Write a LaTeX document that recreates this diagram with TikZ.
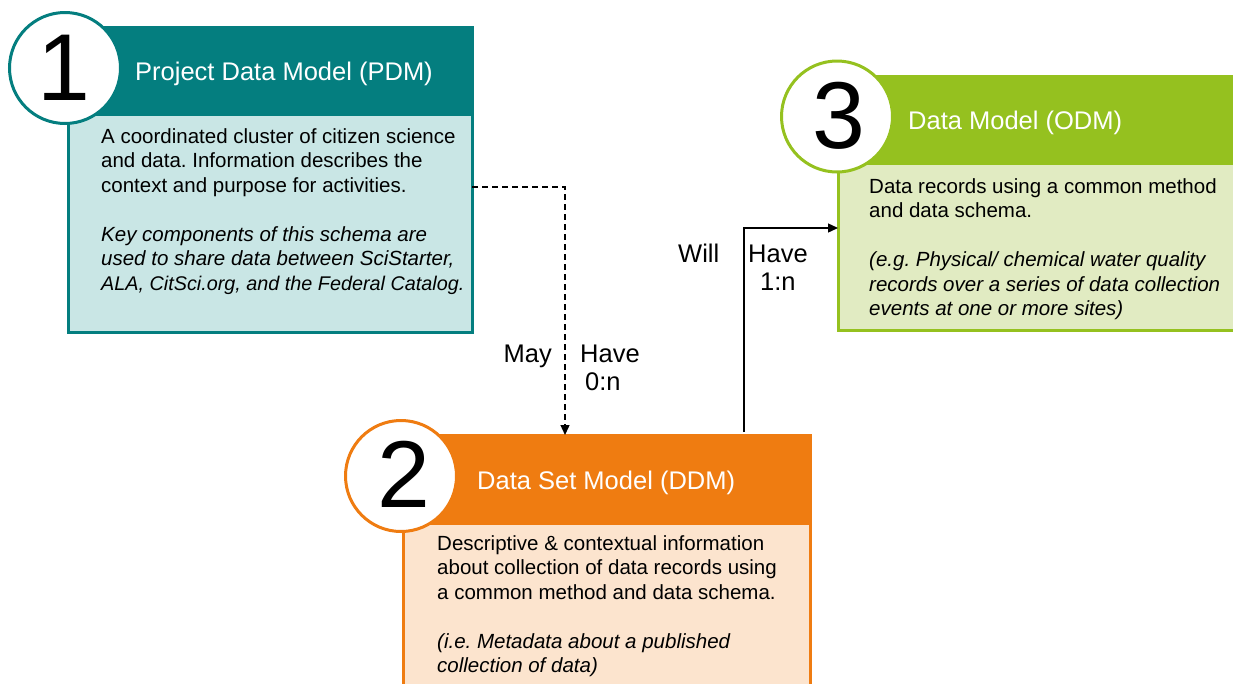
\documentclass[tikz,border=0pt]{standalone}
\usepackage{fontspec}
\setmainfont{Liberation Sans}
\usetikzlibrary{arrows.meta}
\definecolor{tealD}{HTML}{047E7F}
\definecolor{tealL}{HTML}{C9E6E5}
\definecolor{orgD}{HTML}{EF7C11}
\definecolor{orgL}{HTML}{FCE4CE}
\definecolor{grnD}{HTML}{95C11F}
\definecolor{grnL}{HTML}{E1EBC2}
\tikzset{
  bodybox/.style={anchor=north west, inner sep=0pt, outer sep=0pt, line width=3pt},
  headbox/.style={anchor=north west, inner sep=0pt, outer sep=0pt, line width=3pt},
  numcirc/.style={circle, fill=white, line width=3pt, minimum size=111pt, inner sep=0pt},
  digit/.style={anchor=base, inner sep=0pt, font=\fontsize{95}{100}\selectfont},
  titletext/.style={anchor=base west, inner sep=0pt, text=white, font=\fontsize{25.5}{30}\selectfont},
  bodytext/.style={anchor=north west, inner sep=0pt, align=left, font=\fontsize{20.5}{24.5}\selectfont\frenchspacing},
  lab/.style={inner sep=0pt, font=\fontsize{25.5}{30}\selectfont},
  conn/.style={line width=1.3pt, -{Triangle[length=10pt,width=9pt]}},
  dashconn/.style={conn, dash pattern=on 6pt off 4pt}
}
\begin{document}
\begin{tikzpicture}[x=1pt,y=-1pt]
\useasboundingbox (0,0) rectangle (1233,683);
\clip (0,0) rectangle (1233,683);
\fill[white] (0,0) rectangle (1233,683);
% Box 1
\node[bodybox, draw=tealD, fill=tealL, minimum width=404pt, minimum height=305pt] (b1) at (68,27) {};
\node[headbox, draw=tealD, fill=tealD, minimum width=404pt, minimum height=87pt] (h1) at (68,27) {};
\node[numcirc, draw=tealD] (c1) at (65,68) {};
\node[digit] (d1) at (63.5,100) {1};
\node[titletext] (t1) at (135,80) {Project Data Model (PDM)};
\node[bodytext] (x1) at (101,128) {A coordinated cluster of citizen science\\
and data. Information describes the\\
context and purpose for activities.\\[24.5pt]
\itshape Key components of this schema are\\
\itshape used to share data between SciStarter,\\
\itshape\fontsize{19.8}{24.5}\selectfont ALA, CitSci.org, and the Federal Catalog.};
% Box 3
\node[bodybox, draw=grnD, fill=grnL, minimum width=407pt, minimum height=254pt] (b3) at (838,76) {};
\node[headbox, draw=grnD, fill=grnD, minimum width=407pt, minimum height=87pt] (h3) at (838,76) {};
\node[numcirc, draw=grnD] (c3) at (837,116.5) {};
\node[digit] (d3) at (838.5,148) {3};
\node[titletext] (t3) at (908,129) {Data Model (ODM)};
\node[bodytext] (x3) at (869,178) {Data records using a common method\\
and data schema.\\[24.5pt]
\itshape (e.g. Physical/ chemical water quality\\
\itshape records over a series of data collection\\
\itshape events at one or more sites)};
% Box 2
\node[bodybox, draw=orgD, fill=orgL, minimum width=407pt, minimum height=270pt] (b2) at (403,435) {};
\node[headbox, draw=orgD, fill=orgD, minimum width=407pt, minimum height=88pt] (h2) at (403,435) {};
\node[numcirc, draw=orgD] (c2) at (401,476) {};
\node[digit] (d2) at (404,507) {2};
\node[titletext] (t2) at (477,489) {Data Set Model (DDM)};
\node[bodytext] (x2) at (437,535) {Descriptive \& contextual information\\
about collection of data records using\\
a common method and data schema.\\[24.5pt]
\itshape (i.e. Metadata about a published\\
\itshape collection of data)};
% Connectors
\draw[dashconn] ([yshift=-7.5pt]b1.east) -| ([xshift=-41.5pt]h2.north);
\draw[conn] ([xshift=137.5pt,yshift=3pt]h2.north) |- ([yshift=-25pt]b3.west);
% Labels
\node[lab, anchor=base east] (may) at (552,362) {May};
\node[lab, anchor=base west] (have1) at (580,362) {Have};
\node[lab, anchor=base west] (card1) at (585,390) {0:n};
\node[lab, anchor=base west] (will) at (678,262) {Will};
\node[lab, anchor=base west] (have2) at (748,262) {Have};
\node[lab, anchor=base west] (card2) at (760,290) {1:n};
\end{tikzpicture}
\end{document}
